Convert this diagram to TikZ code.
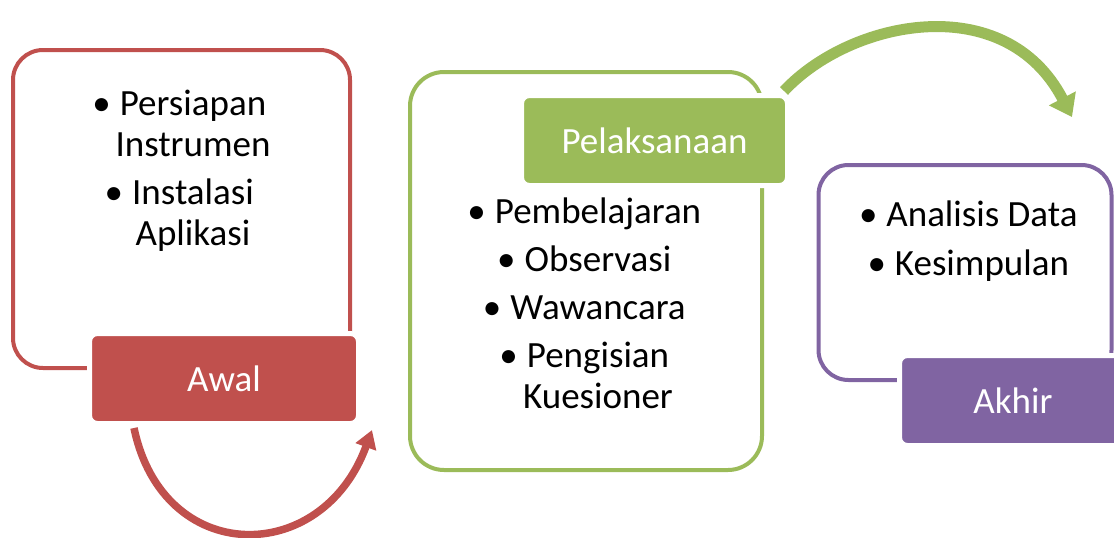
\documentclass[tikz,border=0pt]{standalone}
\usepackage{fontspec}
\setmainfont{Carlito}
\usetikzlibrary{arrows.meta}

\definecolor{awalred}{HTML}{C0504D}
\definecolor{pelgreen}{HTML}{9BBB59}
\definecolor{akhirpurple}{HTML}{8064A2}
\newcommand{\itm}{\llap{\textbullet\hspace{9pt}}}

\tikzset{
	boxframe/.style={draw=#1, line width=4pt, rounded corners=30pt, inner sep=0pt},
	stage/.style={fill=#1, draw=white, line width=5pt, rounded corners=8pt, text=white, inner sep=0pt, minimum height=90pt},
	items/.style={align=center, anchor=base, inner sep=0pt}
}

\begin{document}
\begin{tikzpicture}[x=1pt, y=-1pt, font=\fontsize{37}{41}\selectfont]
	\clip (0,0) rectangle (1114,538);
	%frames
	\node[boxframe=awalred, minimum width=337pt, minimum height=318pt] (awalframe) at (181.5,209) {};
	\node[boxframe=pelgreen, minimum width=352pt, minimum height=398pt, rounded corners=34pt] (pelframe) at (586,271) {};
	\node[boxframe=akhirpurple, minimum width=293pt, minimum height=215pt] (akhirframe) at (965,272.5) {};
	
	%stage labels
	\node[stage=awalred, minimum width=269pt] (awal) at (224,378.5) {Awal};
	\node[stage=pelgreen, minimum width=266pt] (pelaksanaan) at (654.5,140.5) {Pelaksanaan};
	\node[stage=akhirpurple, minimum width=227pt] (akhir) at (1013,400.5) {Akhir};
	
	%lists (anchored at the last baseline)
	\node[items] (awallist) at (193,245) {\itm Persiapan\\ Instrumen\\[7pt] \itm Instalasi\\ Aplikasi};
	\node[items] (pellist) at (598,408) {\itm Pembelajaran\\[7pt] \itm Observasi\\[7pt] \itm Wawancara\\[7pt] \itm Pengisian\\ Kuesioner};
	\node[items] (akhirlist) at (982,275) {\itm Analisis Data\\[8pt] \itm Kesimpulan};
	
	%arrows
	\coordinate (redstart) at (134,428);
	\coordinate (redend) at (372,430);
	\coordinate (greenstart) at (784,91);
	\coordinate (greenend) at (1072,117);
	\draw[awalred, line width=7.5pt, -{Triangle[length=18pt,width=21pt]}] (redstart) .. controls (163,567) and (322,567) .. (redend);
	\draw[pelgreen, line width=11pt, -{Triangle[length=21pt,width=29pt]}] (greenstart) .. controls (850,20) and (1005,-12) .. (greenend);
\end{tikzpicture}
\end{document}
